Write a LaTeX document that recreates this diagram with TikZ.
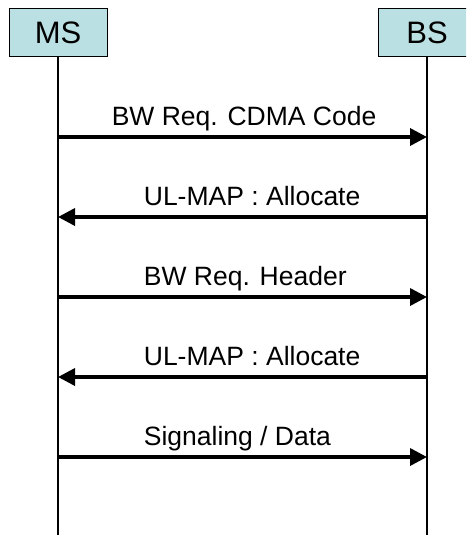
\documentclass[tikz,border=0pt]{standalone}
\usepackage{fontspec}
\setmainfont{Liberation Sans}
\usetikzlibrary{arrows.meta}
\definecolor{boxfill}{HTML}{BBE0E3}
\tikzset{
	entity/.style={draw, fill=boxfill, line width=1pt, minimum width=98pt, minimum height=48pt, inner sep=0pt, font=\fontsize{31}{36}\selectfont},
	lifeline/.style={line width=1.3pt},
	msg/.style={line width=3.5pt, -{Triangle[length=17pt, width=17pt]}},
	msglabel/.style={anchor=base west, inner sep=0pt, yshift=12pt, font=\fontsize{26.5}{31}\selectfont}
}
\begin{document}
\begin{tikzpicture}[x=1pt, y=-1pt]
	\useasboundingbox (0,0) rectangle (466,535);
	\fill[white] (0,0) rectangle (466,535);
	\clip (0,0) rectangle (466,535);

	% Entities and their lifelines
	\node[entity] (ms) at (58,33) {MS};
	\node[entity] (bs) at (427,33) {BS};
	\coordinate (msend) at (58,535);
	\coordinate (bsend) at (427,535);
	\draw[lifeline] (ms) -- (msend);
	\draw[lifeline] (bs) -- (bsend);

	% Message points on the lifelines
	\foreach \i/\y in {1/137, 2/217, 3/297, 4/377, 5/457} {
		\coordinate (ms\i) at (58,\y);
		\coordinate (bs\i) at (427,\y);
	}

	% Messages
	\draw[msg] (ms1) -- node[msglabel, pos=0.141] {BW Req. CDMA Code} (bs1);
	\draw[msg] (bs2) -- node[msglabel, pos=0.772] {UL-MAP : Allocate} (ms2);
	\draw[msg] (ms3) -- node[msglabel, pos=0.228] {BW Req. Header} (bs3);
	\draw[msg] (bs4) -- node[msglabel, pos=0.772] {UL-MAP : Allocate} (ms4);
	\draw[msg] (ms5) -- node[msglabel, pos=0.228] {Signaling / Data} (bs5);
\end{tikzpicture}
\end{document}
